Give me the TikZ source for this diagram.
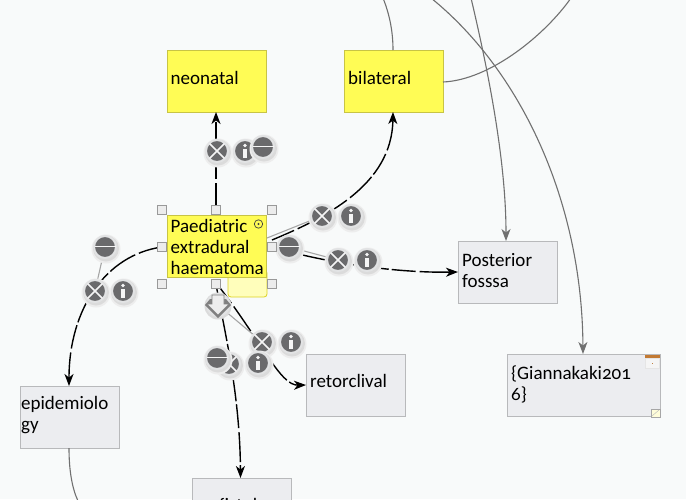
\documentclass[tikz,border=0pt]{standalone}
\usepackage{fontspec}
\setmainfont[Numbers=OldStyle]{Carlito}
\usetikzlibrary{arrows.meta,calc}
\definecolor{paper}{HTML}{F8FAFA}
\definecolor{noteyellow}{HTML}{FFFC55}
\definecolor{noteedge}{HTML}{C8C445}
\definecolor{plainfill}{HTML}{ECEDF0}
\definecolor{plainedge}{HTML}{B8B9BB}
\definecolor{linkgrey}{HTML}{707070}
\definecolor{badge}{HTML}{6A6A6C}
\definecolor{badgerim}{HTML}{E2E3E4}
\tikzset{
  x=1pt,y=-1pt,
  card/.style={draw,line width=1pt,minimum width=99pt,minimum height=62pt,anchor=north west,
    inner sep=0pt,outer sep=0pt},
  yellowcard/.style={card,fill=noteyellow,draw=noteedge},
  plaincard/.style={card,fill=plainfill,draw=plainedge},
  cardtext/.style={anchor=west,align=left,inner sep=0pt,font=\fontsize{19}{21}\selectfont,text=black},
  handle/.style={draw=gray!80,fill=gray!15,line width=.7pt,minimum size=9pt,inner sep=0pt},
  strong/.style={black,line width=1.4pt,dash pattern=on 24pt off 4pt on 30pt off 3pt,
    -{Stealth[length=12pt,width=9pt,inset=3.5pt]}},
  soft/.style={linkgrey,line width=1.1pt},
  softarrow/.style={soft,-{Stealth[length=12pt,width=9pt,inset=3.5pt]}},
  tether/.style={gray!70!white,line width=1.1pt},
  disc/.style={circle,minimum size=22pt,inner sep=0pt,fill=badge,draw=badgerim,line width=2pt},
}
% Soft two-step shadow shared by every badge
\newcommand{\badgeshadow}[1]{%
  \fill[black!7] (#1)++(1,2) circle (14.5);
  \fill[black!14] (#1)++(1,1.5) circle (13);
}
% Round badges: cross, info and minus variants
\newcommand{\crossbadge}[2]{%
  \badgeshadow{#2}
  \node[disc] (#1) at (#2) {};
  \draw[white!92!gray,line width=1.6pt] ($(#1)+(-7.4,-7.4)$) -- ($(#1)+(7.4,7.4)$)
    ($(#1)+(-7.4,7.4)$) -- ($(#1)+(7.4,-7.4)$);
}
\newcommand{\infobadge}[2]{%
  \badgeshadow{#2}
  \node[disc] (#1) at (#2) {};
  \fill[white!92!gray] ($(#1)+(-1.6,-2)$) rectangle ($(#1)+(1.6,6.5)$);
  \fill[white!92!gray] ($(#1)+(0,-5.5)$) circle (1.9);
}
\newcommand{\minusbadge}[2]{%
  \badgeshadow{#2}
  \node[disc] (#1) at (#2) {};
  \fill[white!92!gray] ($(#1)+(-10.5,-1.2)$) rectangle ($(#1)+(10.5,.3)$);
}
\begin{document}
\begin{tikzpicture}
\useasboundingbox (0,0) rectangle (686,499);
\fill[paper] (0,0) rectangle (686,499);
\begin{scope}
\clip (0,0) rectangle (686,499);

% Cards
\node[yellowcard] (neo) at (167,50) {};
\node[yellowcard] (bil) at (344,50) {};
\node[yellowcard] (pae) at (167,215.5) {};
\node[plaincard] (pos) at (458,241) {};
\node[plaincard,minimum width=153pt] (gia) at (507,354) {};
\node[plaincard] (ret) at (306,354) {};
\node[plaincard] (epi) at (20,386) {};
\node[plaincard] (fin) at (192,478) {};

% Grey links that arrive from above
\coordinate (offa) at (383,-2);
\coordinate (offb) at (471,-2);
\coordinate (offc) at (431,-2);
\coordinate (offd) at (571,-2);
\coordinate (offe) at (78,501);
\draw[soft] (offa) .. controls (389,13) and (393,30) .. (bil.north -| 393,0);
\draw[soft] (bil.east |- 0,82) .. controls (490,80) and (545,35) .. (offd);
\draw[softarrow] (offb) .. controls (488,70) and (506,160) .. (pos.north -| 506,0);
\draw[softarrow] (offc) .. controls (520,70) and (582,200) .. (gia.north -| 583,0);
\draw[soft] (epi.south -| 69,0) .. controls (69,470) and (72,488) .. (offe);

% Black links out of the selected card
\coordinate (ntop) at (216,207);
\draw[strong] (ntop) -- (neo.south -| ntop);
\draw[strong] (272,240) .. controls (325,218) and (392,185) .. (bil.south -| 393,0);
\draw[strong] (272,247) .. controls (330,264) and (400,273) .. (pos.west);
\draw[strong] (162,247) .. controls (105,255) and (69,310) .. (epi.north -| 69,0);
\draw[strong] (216,284) .. controls (222,320) and (240,390) .. (fin.north -| 240.5,0);
\draw[strong] (217,284) .. controls (262,342) and (280,385.5) .. (ret.west);

% Badge tethers
\draw[tether] (217,151) -- (263,148);
\draw[tether] (267,238) -- (322,216);
\draw[tether] (289,247) -- (338,260);
\draw[tether] (105,247) -- (95,291);
\draw[tether] (218,305) -- (262,342);

% Badges along each link
\crossbadge{xa}{217,151}
\infobadge{ia}{245,151}
\minusbadge{ma}{263,147}
\crossbadge{xb}{322,216}
\infobadge{ib}{351,216}
\minusbadge{mb}{289,247}
\crossbadge{xc}{338,260}
\infobadge{ic}{367,260}
\minusbadge{md}{105,247}
\crossbadge{xd}{95,291}
\infobadge{id}{123,291}
\crossbadge{xe}{262,342}
\infobadge{ie}{291,342}
\crossbadge{xf}{229,364}
\minusbadge{mf}{217,358}
\infobadge{if}{258,363}

% Tab under the selected card
\draw[draw=yellow!85!black,fill=noteyellow!40!white,line width=.8pt,rounded corners=3pt]
  (228,270) -- (228,297) -- (267,297) -- (267,270) -- cycle;

% Selected card sits above its tab
\node[yellowcard] at (167,215.5) {};

% Selection handles
\foreach \n/\p in {ha/{162,210},hb/{216,210},hc/{272,210},hd/{162,247},he/{272,247},hf/{162,284},hg/{216,284},hh/{272,284}}
  \node[handle] (\n) at (\p) {};

% Collapse arrow badge
\fill[black!14] (218,306) circle (13.5);
\fill[badgerim] (218,305) circle (12);
\fill[black!50] (205,305) -- ++(13,13) -- ++(13,-13) -- ++(-5,-6) -- ++(-16,0) -- cycle;
\draw[gray,fill=white!93!black,line width=.6pt]
  (212,295) -- (224,295) -- (224,304) -- (229,304) -- (218,315) -- (207,304) -- (212,304) -- cycle;

% Marker in the corner of the selected card
\draw[black!75,line width=.7pt] (258.5,224) circle (4.2);
\fill[black!75] (258.5,224) circle (1.1);

% Card texts
\node[cardtext] (tneo) at (170.5,78) {neonatal};
\node[cardtext] (tbil) at (348,78) {bilateral};
\node[cardtext] (tpae) at (170.5,247) {Paediatric\\extradural\\haematoma};
\node[cardtext] (tpos) at (462,271) {Posterior\\fosssa};
\node[cardtext] (tgia) at (511,384) {\{Giannakaki201\\6\}};
\node[cardtext] (tret) at (310,381) {retorclival};
\node[cardtext] (tepi) at (21,415) {epidemiolo\\gy};
\node[cardtext,anchor=base west] (tfin) at (219,511) {fistula};

% Small corner icons on the reference card
\fill[gray!20] (645,355) rectangle (660,369);
\fill[orange!70!black!80] (645,355) rectangle (660,358);
\fill[white!92!gray] (646,358.5) rectangle (659,368);
\fill[orange!50!gray] (651.5,363) rectangle (652.5,364);
\draw[gray!70,fill=yellow!15,line width=.6pt] (651,409) rectangle (660,417);
\draw[gray!50,line width=.5pt] (652,416) -- (659,410);
\end{scope}
\end{tikzpicture}
\end{document}
